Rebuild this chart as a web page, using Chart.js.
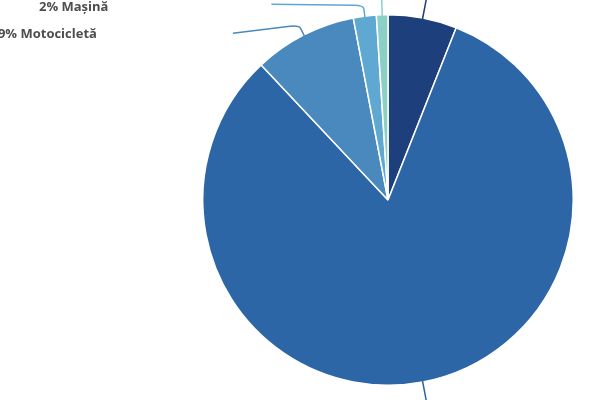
<!DOCTYPE html>
<html>
<head>
<meta charset="utf-8">
<script src="https://cdn.jsdelivr.net/npm/chart.js@4"></script>
<style>
html,body{margin:0;padding:0;background:#fff;}
#wrap{width:600px;height:400px;}
</style>
</head>
<body>
<div id="wrap"><canvas id="c" width="600" height="400"></canvas></div>
<script>
const categories = ['Autoturism', 'Bicicletă', 'Motocicletă', 'Mașină', 'Altele'];
const percentValues = [6, 82, 9, 2, 1];
const sliceColors = ['#1d3f7b', '#2d66a6', '#4a89bd', '#5ea8d1', '#8ccfc7'];

// leader-line layout (pixels): radial extension, horizontal run, vertical drift of run, text gap
const leaderLayout = [
  {ext: 40, run: 60, drift: 0, gap: 8},
  {ext: 40, run: 60, drift: 0, gap: 8},
  {ext: 11, run: 66, drift: 8, gap: 136},
  {ext: 11, run: 92, drift: -1, gap: 163},
  {ext: 40, run: 60, drift: 0, gap: 8}
];

const leaderPlugin = {
  id: 'leaders',
  afterDatasetsDraw(chart) {
    const ctx = chart.ctx;
    const meta = chart.getDatasetMeta(0);
    ctx.save();
    meta.data.forEach((arc, i) => {
      const p = arc.getProps(['x','y','startAngle','endAngle','outerRadius'], true);
      const mid = (p.startAngle + p.endAngle) / 2;
      const cos = Math.cos(mid), sin = Math.sin(mid);
      const L = leaderLayout[i];
      const x0 = p.x + cos * (p.outerRadius - 1);
      const y0 = p.y + sin * (p.outerRadius - 1);
      const x1 = p.x + cos * (p.outerRadius + L.ext);
      const y1 = p.y + sin * (p.outerRadius + L.ext);
      const dir = cos >= 0 ? 1 : -1;
      const x2 = x1 + dir * L.run;
      const y2 = y1 + L.drift;
      ctx.strokeStyle = sliceColors[i];
      ctx.lineWidth = 1.5;
      ctx.beginPath();
      ctx.moveTo(x0, y0);
      const cx = x0 + (x1 - x0) * 0.7, cy = y0 + (y1 - y0) * 0.7;
      ctx.lineTo(cx, cy);
      ctx.quadraticCurveTo(x1, y1, x1 + dir * 9, y1 + L.drift * 9 / L.run);
      ctx.lineTo(x2, y2);
      ctx.stroke();
      ctx.fillStyle = '#4d4d4d';
      ctx.font = 'bold 13px "Open Sans", sans-serif';
      ctx.textBaseline = 'middle';
      ctx.textAlign = dir > 0 ? 'left' : 'right';
      const label = percentValues[i] + '% ' + categories[i];
      ctx.fillText(label, x2 + dir * L.gap, y2 + (i === 3 ? 3 : 1));
    });
    ctx.restore();
  }
};

new Chart(document.getElementById('c'), {
  type: 'pie',
  data: {
    labels: categories,
    datasets: [{
      data: percentValues,
      backgroundColor: sliceColors,
      borderColor: '#ffffff',
      borderWidth: 1.5
    }]
  },
  options: {
    responsive: false,
    animation: false,
    layout: {padding: {left: 202, right: 26, top: 14, bottom: 14}},
    plugins: {legend: {display: false}, tooltip: {enabled: false}}
  },
  plugins: [leaderPlugin]
});
</script>
</body>
</html>
